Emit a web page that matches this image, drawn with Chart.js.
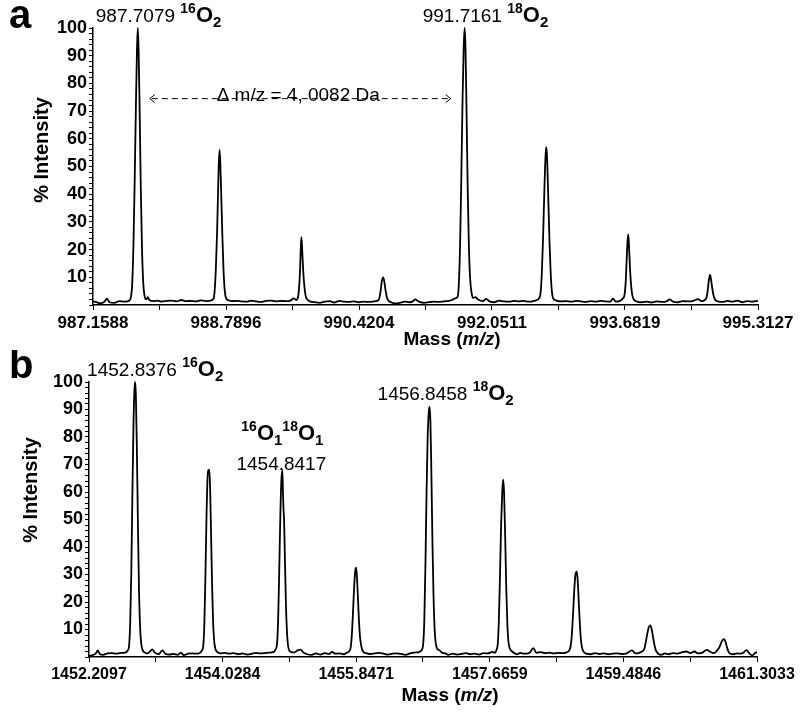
<!DOCTYPE html>
<html>
<head>
<meta charset="utf-8">
<script src="https://cdn.jsdelivr.net/npm/chart.js@4.4.1/dist/chart.umd.min.js"></script>
<style>
  body { margin: 0; background: #fff; }
  #wrap { position: relative; width: 800px; height: 717px; background: #fff; }
  canvas { position: absolute; left: 0; }
  #chartA { top: 0; }
  #chartB { top: 350px; }
</style>
</head>
<body>
<div id="wrap">
  <canvas id="chartA" width="800" height="350"></canvas>
  <canvas id="chartB" width="800" height="367"></canvas>
</div>
<script>
// ---- panel a ----
const tickLabelsA = ['987.1588', '988.7896', '990.4204', '992.0511', '993.6819', '995.3127'];
const peakLabelsA = ['987.7079', '991.7161'];
const isotopesA = ['16', '18'];
const deltaLabelA = 'Δ m/z = 4, 0082 Da';
// [mass, % intensity]
const traceA = [
  [987.1588, 1.3], [987.20, 1.0], [987.25, 0.6], [987.30, 1.2], [987.33, 2.3], [987.36, 1.0], [987.42, 0.8],
  [987.48, 1.4], [987.54, 1.2], [987.60, 1.5], [987.625, 3], [987.64, 8], [987.655, 22], [987.67, 45],
  [987.685, 72], [987.698, 92], [987.708, 100], [987.718, 92], [987.73, 72], [987.745, 42], [987.76, 20],
  [987.775, 8], [987.79, 3.5], [987.81, 2], [987.83, 2.8], [987.85, 1.8], [987.90, 1.4], [987.95, 1.6],
  [988.00, 1.2], [988.06, 1.5], [988.12, 1.6], [988.18, 1.3], [988.24, 1.8], [988.30, 1.4], [988.36, 1.5],
  [988.42, 1.3], [988.48, 1.7], [988.54, 1.4], [988.60, 1.6], [988.635, 2.2], [988.65, 5], [988.665, 13],
  [988.68, 26], [988.69, 38], [988.70, 50], [988.711, 56], [988.72, 51], [988.73, 41], [988.745, 25],
  [988.76, 12], [988.775, 5], [988.79, 2.5], [988.82, 1.7], [988.86, 1.4], [988.92, 1.5], [988.98, 1.3],
  [989.04, 1.2], [989.10, 1.6], [989.16, 1.3], [989.22, 1.1], [989.28, 1.5], [989.34, 1.6], [989.40, 1.3],
  [989.46, 1.5], [989.52, 1.4], [989.58, 1.6], [989.62, 2.4], [989.65, 1.8], [989.67, 2.5], [989.685, 6],
  [989.698, 13], [989.707, 21], [989.714, 24.5], [989.722, 21], [989.735, 13], [989.75, 7], [989.765, 3.5],
  [989.78, 2.2], [989.82, 1.3], [989.88, 1.0], [989.94, 0.8], [990.00, 1.2], [990.06, 1.4], [990.12, 0.9],
  [990.18, 1.5], [990.24, 1.2], [990.30, 1.1], [990.36, 1.3], [990.42, 1.0], [990.48, 1.2], [990.54, 1.1],
  [990.60, 1.3], [990.64, 1.5], [990.665, 2], [990.685, 5], [990.70, 8.5], [990.717, 10], [990.73, 8.5],
  [990.745, 5.5], [990.76, 3], [990.78, 1.6], [990.82, 0.9], [990.86, 0.6], [990.92, 0.8], [990.98, 1.2],
  [991.04, 1.0], [991.08, 1.3], [991.11, 2.0], [991.16, 1.1], [991.22, 0.8], [991.28, 1.0], [991.34, 1.2],
  [991.40, 1.1], [991.46, 1.3], [991.52, 1.5], [991.56, 1.8], [991.60, 2.4], [991.63, 3], [991.645, 8],
  [991.66, 22], [991.675, 46], [991.69, 74], [991.704, 93], [991.716, 100], [991.726, 93], [991.738, 72],
  [991.752, 44], [991.767, 22], [991.782, 10], [991.80, 4.5], [991.82, 2.6], [991.85, 2.8], [991.88, 2.0],
  [991.94, 1.4], [991.98, 2.2], [992.02, 1.3], [992.08, 1.0], [992.14, 1.6], [992.20, 1.3], [992.26, 1.2],
  [992.32, 1.5], [992.38, 1.3], [992.44, 1.5], [992.50, 1.2], [992.56, 1.4], [992.60, 1.8], [992.63, 2.5],
  [992.645, 4], [992.66, 10], [992.675, 22], [992.69, 38], [992.70, 48], [992.71, 55], [992.719, 57],
  [992.728, 52], [992.74, 40], [992.755, 24], [992.77, 12], [992.785, 5], [992.80, 2.5], [992.84, 1.6],
  [992.90, 1.3], [992.96, 1.4], [993.02, 1.2], [993.08, 1.5], [993.14, 1.3], [993.20, 1.1], [993.26, 1.4],
  [993.32, 1.2], [993.38, 1.5], [993.44, 1.3], [993.50, 1.2], [993.535, 2.3], [993.57, 1.2], [993.62, 1.5],
  [993.66, 2.5], [993.675, 3.5], [993.69, 8], [993.702, 16], [993.713, 23], [993.722, 25.5], [993.73, 22],
  [993.742, 14], [993.757, 7], [993.772, 3.5], [993.79, 2], [993.83, 1.2], [993.89, 1.0], [993.95, 1.2],
  [994.01, 0.9], [994.07, 1.3], [994.13, 1.1], [994.19, 1.3], [994.23, 2.0], [994.27, 1.2], [994.33, 1.0],
  [994.39, 1.4], [994.45, 1.3], [994.52, 1.5], [994.576, 2.1], [994.62, 1.4], [994.66, 1.8], [994.68, 2.5],
  [994.695, 5], [994.71, 9], [994.725, 11], [994.738, 9], [994.752, 6], [994.767, 3.5], [994.785, 2],
  [994.82, 1.3], [994.88, 1.1], [994.94, 1.5], [995.00, 1.2], [995.06, 1.6], [995.12, 1.0], [995.18, 1.4],
  [995.24, 1.2], [995.3127, 1.5]
];

// ---- panel b ----
const tickLabelsB = ['1452.2097', '1454.0284', '1455.8471', '1457.6659', '1459.4846', '1461.3033'];
const peakLabelsB = ['1452.8376', '1454.8417', '1456.8458'];
const isotopesB = ['16', '16', '18'];
const traceB = [
  [1452.2097, 0.5], [1452.25, 0.6], [1452.30, 1.2], [1452.33, 2.4], [1452.36, 1.0], [1452.40, 0.8],
  [1452.46, 1.3], [1452.52, 1.4], [1452.58, 1.2], [1452.64, 1.5], [1452.70, 1.6], [1452.74, 2.5],
  [1452.755, 4], [1452.77, 12], [1452.785, 30], [1452.80, 58], [1452.815, 84], [1452.828, 97],
  [1452.838, 100], [1452.848, 95], [1452.86, 78], [1452.875, 50], [1452.89, 25], [1452.905, 11],
  [1452.92, 5], [1452.94, 2.5], [1452.97, 1.6], [1453.00, 1.3], [1453.04, 2.0], [1453.07, 2.8],
  [1453.11, 1.5], [1453.16, 1.1], [1453.21, 2.4], [1453.25, 1.2], [1453.30, 0.9], [1453.36, 1.1],
  [1453.42, 0.8], [1453.46, 1.6], [1453.50, 0.7], [1453.56, 1.2], [1453.62, 1.3], [1453.68, 1.2],
  [1453.72, 1.5], [1453.75, 2.5], [1453.765, 4], [1453.78, 12], [1453.795, 30], [1453.81, 52],
  [1453.825, 66], [1453.835, 68], [1453.848, 68], [1453.858, 62], [1453.872, 44], [1453.887, 24],
  [1453.90, 12], [1453.915, 5.5], [1453.93, 3], [1453.96, 1.8], [1454.00, 1.3], [1454.06, 1.5],
  [1454.12, 1.2], [1454.18, 1.4], [1454.24, 1.0], [1454.30, 1.3], [1454.36, 0.9], [1454.42, 1.1],
  [1454.48, 1.5], [1454.54, 1.3], [1454.60, 1.4], [1454.66, 1.6], [1454.72, 1.8], [1454.75, 2.8],
  [1454.77, 5], [1454.785, 14], [1454.80, 32], [1454.815, 52], [1454.828, 64], [1454.842, 68],
  [1454.85, 60], [1454.857, 54], [1454.865, 50], [1454.875, 38], [1454.89, 20], [1454.905, 9],
  [1454.92, 4], [1454.94, 2.2], [1454.97, 1.8], [1455.00, 1.6], [1455.05, 2.4], [1455.09, 2.7],
  [1455.13, 1.6], [1455.18, 1.0], [1455.24, 0.8], [1455.30, 1.3], [1455.36, 0.9], [1455.42, 1.4],
  [1455.48, 1.1], [1455.52, 1.9], [1455.56, 1.2], [1455.62, 1.3], [1455.68, 1.0], [1455.72, 1.6],
  [1455.76, 2.4], [1455.775, 4], [1455.79, 9], [1455.805, 17], [1455.82, 26], [1455.835, 31.5],
  [1455.845, 32.5], [1455.855, 30], [1455.87, 22], [1455.885, 13], [1455.90, 7], [1455.92, 3.5],
  [1455.94, 2], [1455.98, 1.4], [1456.04, 1.1], [1456.10, 1.3], [1456.16, 1.5], [1456.22, 1.2],
  [1456.28, 0.9], [1456.34, 1.2], [1456.40, 1.3], [1456.46, 1.1], [1456.52, 0.8], [1456.58, 1.3],
  [1456.64, 1.6], [1456.70, 1.8], [1456.74, 2.6], [1456.76, 5], [1456.775, 14], [1456.79, 34],
  [1456.805, 60], [1456.82, 80], [1456.835, 89], [1456.846, 91], [1456.857, 86], [1456.87, 68],
  [1456.885, 42], [1456.90, 22], [1456.915, 10], [1456.93, 5], [1456.95, 3], [1456.98, 2.5],
  [1457.01, 1.6], [1457.06, 1.3], [1457.10, 0.8], [1457.16, 1.2], [1457.22, 0.9], [1457.28, 1.1],
  [1457.34, 1.4], [1457.40, 1.0], [1457.46, 1.2], [1457.52, 0.9], [1457.58, 1.4], [1457.64, 1.3],
  [1457.70, 1.9], [1457.73, 1.5], [1457.76, 2.8], [1457.775, 5], [1457.79, 14], [1457.805, 30],
  [1457.82, 48], [1457.835, 60], [1457.848, 64.5], [1457.86, 60], [1457.875, 44], [1457.89, 25],
  [1457.905, 12], [1457.92, 5.5], [1457.94, 3], [1457.97, 2], [1458.00, 1.4], [1458.04, 1.0],
  [1458.08, 1.5], [1458.13, 1.2], [1458.20, 1.4], [1458.26, 3.2], [1458.30, 1.5], [1458.36, 1.8],
  [1458.42, 1.4], [1458.48, 1.6], [1458.54, 1.3], [1458.60, 1.5], [1458.66, 1.4], [1458.70, 1.6],
  [1458.75, 2.5], [1458.77, 4.5], [1458.785, 9], [1458.80, 16], [1458.815, 24], [1458.83, 29.5],
  [1458.85, 31], [1458.862, 28], [1458.877, 20], [1458.892, 12], [1458.907, 6], [1458.925, 3],
  [1458.945, 1.8], [1458.98, 1.2], [1459.04, 1.0], [1459.10, 1.4], [1459.16, 1.1], [1459.22, 1.3],
  [1459.28, 1.0], [1459.34, 1.2], [1459.40, 1.3], [1459.46, 1.1], [1459.52, 1.2], [1459.60, 2.4],
  [1459.65, 1.3], [1459.70, 1.5], [1459.75, 2.2], [1459.77, 3], [1459.79, 5.5], [1459.81, 8.5],
  [1459.83, 10.8], [1459.852, 11.5], [1459.87, 10], [1459.89, 7], [1459.91, 4], [1459.93, 2.2],
  [1459.96, 1.2], [1460.00, 0.8], [1460.05, 1.3], [1460.10, 1.0], [1460.16, 1.4], [1460.22, 1.2],
  [1460.28, 1.7], [1460.34, 2.0], [1460.40, 1.4], [1460.45, 2.0], [1460.50, 1.3], [1460.56, 1.6],
  [1460.62, 2.6], [1460.67, 1.8], [1460.72, 1.4], [1460.76, 2.4], [1460.79, 3.5], [1460.81, 4.8],
  [1460.835, 6.2], [1460.855, 6.5], [1460.875, 5.5], [1460.895, 3.5], [1460.915, 2], [1460.94, 1.2],
  [1460.98, 1.0], [1461.03, 1.3], [1461.08, 1.2], [1461.12, 1.6], [1461.16, 2.5], [1461.20, 1.3],
  [1461.24, 0.6], [1461.28, 1.5], [1461.3033, 1.8]
];

const FONT = '"Liberation Sans", Arial, sans-serif';
Chart.defaults.color = '#000';
Chart.defaults.font.family = FONT;

function richText(ctx, x, y, parts, align) {
  let w = 0;
  parts.forEach(p => { ctx.font = p[1]; w += ctx.measureText(p[0]).width; });
  let cx = align === 'center' ? x - w / 2 : x;
  parts.forEach(p => {
    ctx.font = p[1];
    ctx.fillText(p[0], cx, y + p[2]);
    cx += ctx.measureText(p[0]).width;
  });
}

function isoParts(mass, n) {
  return [
    [mass, 'bold 14px ' + FONT, -9],
    ['O', 'bold 22px ' + FONT, 0],
    [n, 'bold 15px ' + FONT, 5]
  ];
}

function drawAxisTitles(ctx, yCenter, xCenter, xBase) {
  ctx.save();
  ctx.fillStyle = '#000';
  ctx.translate(yCenter[0], yCenter[1]);
  ctx.rotate(-Math.PI / 2);
  ctx.textAlign = 'center';
  ctx.textBaseline = 'middle';
  ctx.font = 'bold 20px ' + FONT;
  ctx.fillText('% Intensity', 0, 0);
  ctx.restore();

  ctx.save();
  ctx.fillStyle = '#000';
  ctx.textBaseline = 'alphabetic';
  richText(ctx, xCenter, xBase, [
    ['Mass (', 'bold 19px ' + FONT, 0],
    ['m/z', 'italic bold 19px ' + FONT, 0],
    [')', 'bold 19px ' + FONT, 0]
  ], 'center');
  ctx.restore();
}

function buildOptions(tickLabels, yWidth, xHeight, padding, xFontSize) {
  const major = tickLabels.map(t => parseFloat(t));
  const tickVals = [];
  major.forEach((v, i) => {
    tickVals.push(v);
    if (i < major.length - 1) tickVals.push((v + major[i + 1]) / 2);
  });
  const yVals = [];
  for (let v = 0; v <= 100; v += 2) yVals.push(v);

  return {
    responsive: false,
    animation: false,
    layout: { padding: padding },
    plugins: { legend: { display: false }, tooltip: { enabled: false } },
    scales: {
      x: {
        type: 'linear',
        min: major[0],
        max: major[major.length - 1],
        afterBuildTicks: axis => { axis.ticks = tickVals.map(v => ({ value: v })); },
        afterFit: axis => { axis.height = xHeight; },
        border: { display: true, color: '#000', width: 1.5 },
        grid: { drawOnChartArea: false, drawTicks: true, tickLength: 5, color: '#000', lineWidth: 1 },
        ticks: {
          autoSkip: false,
          maxRotation: 0,
          padding: 3,
          color: '#000',
          font: { size: xFontSize, weight: 'bold' },
          callback: function (value, index) {
            return index % 2 === 0 ? tickLabels[index / 2] : '';
          }
        }
      },
      y: {
        type: 'linear',
        min: 0,
        max: 100,
        afterBuildTicks: axis => { axis.ticks = yVals.map(v => ({ value: v })); },
        afterFit: axis => { axis.width = yWidth; },
        border: { display: true, color: '#000', width: 1.5 },
        grid: { drawOnChartArea: false, drawTicks: true, tickLength: 4, color: '#000', lineWidth: 1 },
        ticks: {
          autoSkip: false,
          padding: 2,
          color: '#000',
          font: { size: 18, weight: 'bold' },
          callback: function (value) {
            return value > 0 && value % 10 === 0 ? String(value) : '';
          }
        }
      }
    }
  };
}

function lineData(trace) {
  return {
    datasets: [{
      data: trace.map(p => ({ x: p[0], y: p[1] })),
      borderColor: '#000',
      borderWidth: 1.8,
      pointRadius: 0,
      fill: false,
      cubicInterpolationMode: 'monotone',
      clip: 6
    }]
  };
}

const annotateA = {
  id: 'annotateA',
  afterDraw(chart) {
    const ctx = chart.ctx;
    const x = chart.scales.x;
    const y = chart.scales.y;
    ctx.save();
    ctx.fillStyle = '#000';
    ctx.strokeStyle = '#000';
    ctx.textBaseline = 'alphabetic';

    ctx.font = 'bold 40px ' + FONT;
    ctx.fillText('a', 9, 28);

    peakLabelsA.forEach((lbl, i) => {
      const px = x.getPixelForValue(parseFloat(lbl));
      richText(ctx, px - 42, 22, [[lbl + ' ', '19px ' + FONT, 0]].concat(isoParts(isotopesA[i], '2')));
    });

    // delta arrow between the two labelled peaks
    const x1 = x.getPixelForValue(parseFloat(peakLabelsA[0])) + 12;
    const x2 = x.getPixelForValue(parseFloat(peakLabelsA[1])) - 14;
    const ly = y.getPixelForValue(74.5);
    ctx.lineWidth = 1;
    ctx.setLineDash([6, 4]);
    ctx.beginPath();
    ctx.moveTo(x1 + 2, ly);
    ctx.lineTo(x2 - 2, ly);
    ctx.stroke();
    ctx.setLineDash([]);
    ctx.beginPath();
    ctx.moveTo(x1 + 5, ly - 4); ctx.lineTo(x1, ly); ctx.lineTo(x1 + 5, ly + 4);
    ctx.moveTo(x2 - 5, ly - 4); ctx.lineTo(x2, ly); ctx.lineTo(x2 - 5, ly + 4);
    ctx.stroke();
    ctx.font = '19px ' + FONT;
    ctx.textAlign = 'center';
    ctx.fillText(deltaLabelA, (x1 + x2) / 2 - 2, ly + 2);
    ctx.textAlign = 'left';

    drawAxisTitles(ctx, [42, 150], 452, 345);
    ctx.restore();
  }
};

const annotateB = {
  id: 'annotateB',
  afterDraw(chart) {
    const ctx = chart.ctx;
    const x = chart.scales.x;
    ctx.save();
    ctx.fillStyle = '#000';
    ctx.textBaseline = 'alphabetic';

    ctx.font = 'bold 40px ' + FONT;
    ctx.fillText('b', 9, 28);

    const p0 = x.getPixelForValue(parseFloat(peakLabelsB[0]));
    richText(ctx, p0 - 48, 26, [[peakLabelsB[0] + ' ', '19px ' + FONT, 0]].concat(isoParts(isotopesB[0], '2')));

    const p1 = x.getPixelForValue(parseFloat(peakLabelsB[1]));
    richText(ctx, p1, 90, isoParts(isotopesB[1], '1').concat(isoParts('18', '1')), 'center');
    richText(ctx, p1 - 1, 120, [[peakLabelsB[1], '19px ' + FONT, 0]], 'center');

    const p2 = x.getPixelForValue(parseFloat(peakLabelsB[2]));
    richText(ctx, p2 - 52, 50, [[peakLabelsB[2] + ' ', '19px ' + FONT, 0]].concat(isoParts(isotopesB[2], '2')));

    drawAxisTitles(ctx, [31, 140], 450, 351);
    ctx.restore();
  }
};

new Chart(document.getElementById('chartA'), {
  type: 'line',
  data: lineData(traceA),
  options: buildOptions(tickLabelsA, 93, 45, { top: 28, right: 42, left: 0, bottom: 0 }, 17),
  plugins: [annotateA]
});

new Chart(document.getElementById('chartB'), {
  type: 'line',
  data: lineData(traceB),
  options: buildOptions(tickLabelsB, 89, 60, { top: 32, right: 43, left: 0, bottom: 0 }, 16),
  plugins: [annotateB]
});
</script>
</body>
</html>
